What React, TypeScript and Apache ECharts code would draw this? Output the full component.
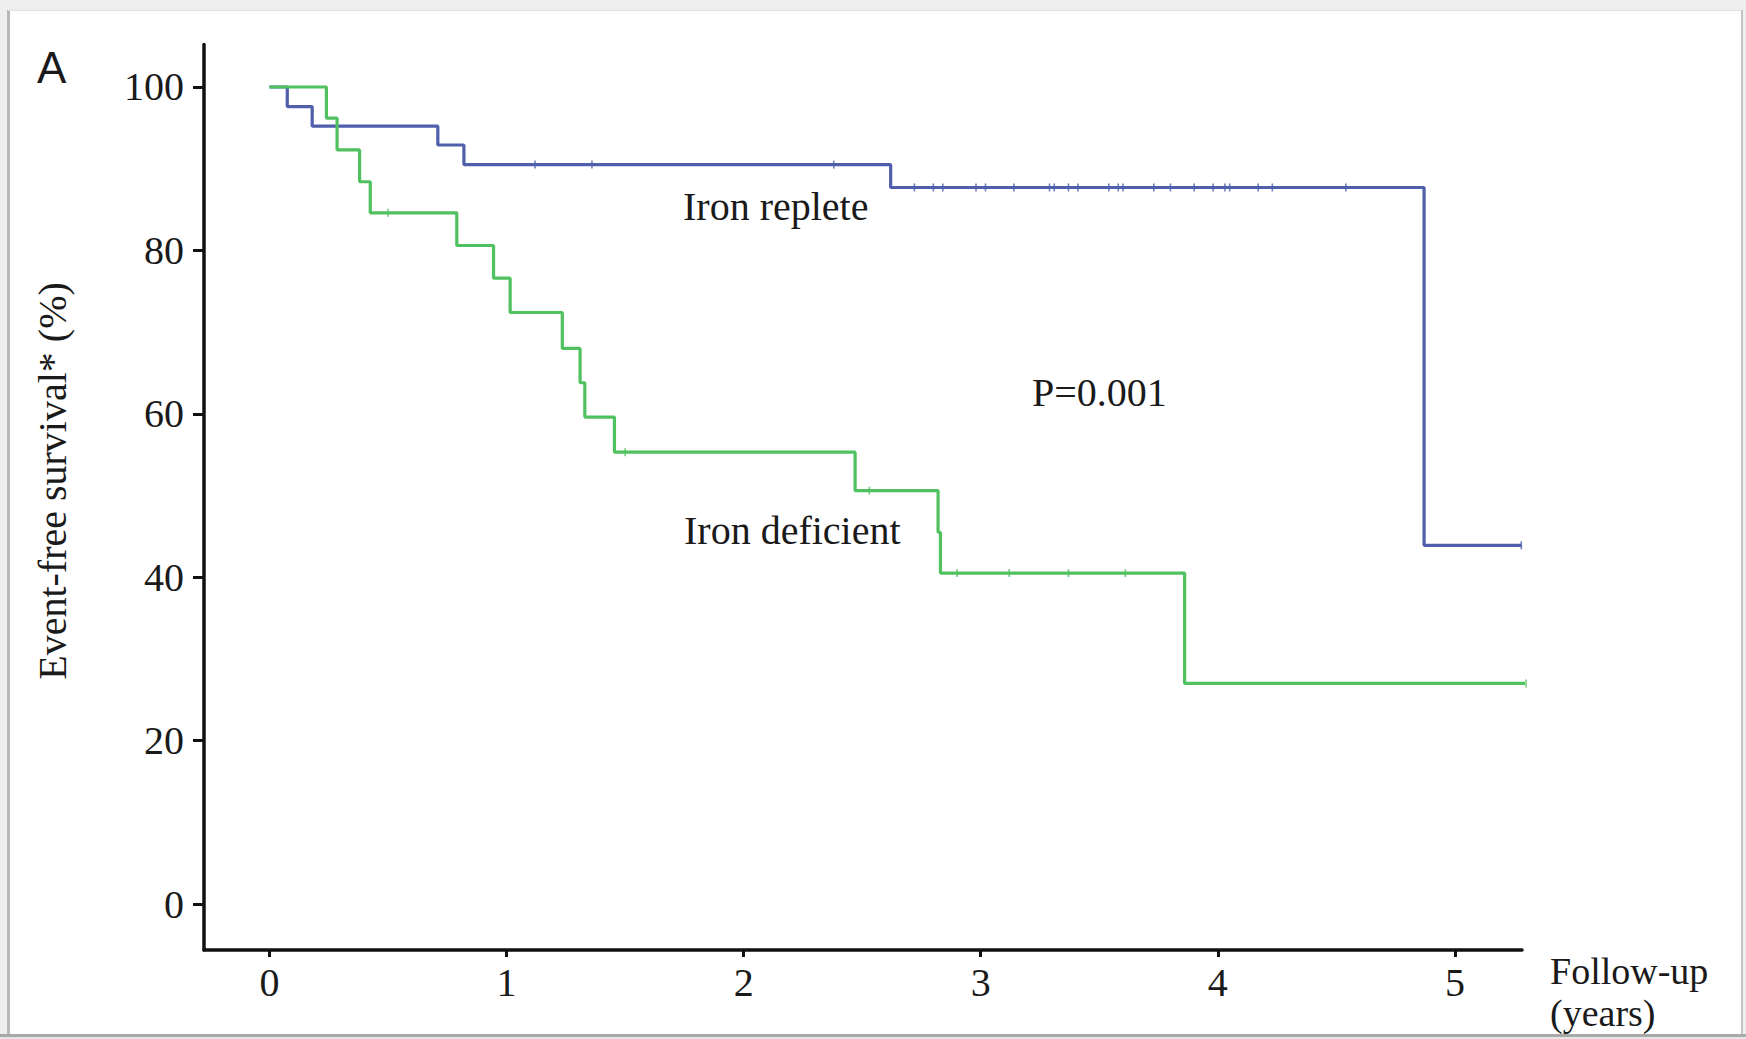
import React, { useEffect, useRef } from "react";
import * as echarts from "echarts";

// Kaplan-Meier curves (time in years, event-free survival in %)
const repleteTimes = [0, 0.075, 0.18, 0.71, 0.82, 2.62, 4.87, 5.28];
const repleteSurv = [100, 97.6, 95.2, 92.9, 90.5, 87.7, 43.9, 43.9];
const repleteCensor = [
  1.12, 1.36, 2.38, 2.72, 2.8, 2.84, 2.98, 3.02, 3.14, 3.29, 3.31, 3.37, 3.41,
  3.54, 3.58, 3.6, 3.73, 3.8, 3.9, 3.98, 4.03, 4.05, 4.17, 4.23, 4.54, 5.28,
];

const deficientTimes = [
  0, 0.24, 0.285, 0.38, 0.425, 0.79, 0.945, 1.015, 1.235, 1.31, 1.33, 1.455,
  2.47, 2.82, 2.83, 3.86, 5.3,
];
const deficientSurv = [
  100, 96.2, 92.3, 88.4, 84.6, 80.6, 76.6, 72.4, 68.0, 63.8, 59.6, 55.3, 50.6,
  45.5, 40.5, 27.0, 27.0,
];
const deficientCensor = [0.5, 1.5, 2.53, 2.9, 3.12, 3.37, 3.61, 5.3];

const xTicks = [0, 1, 2, 3, 4, 5];
const yTicks = [0, 20, 40, 60, 80, 100];

const BLUE = "#4f5fac";
const GREEN = "#50c15f";
const SERIF = "Liberation Serif";

function survAt(times: number[], surv: number[], t: number): number {
  let v = surv[0];
  for (let i = 0; i < times.length; i++) {
    if (times[i] <= t + 1e-9) v = surv[i];
  }
  return v;
}

export default function App() {
  const ref = useRef<HTMLDivElement>(null);
  useEffect(() => {
    if (!ref.current) return;
    const chart = echarts.init(ref.current, undefined, { renderer: "svg" });
    const repleteLine = repleteTimes.map((t, i) => [t, repleteSurv[i]]);
    const deficientLine = deficientTimes.map((t, i) => [t, deficientSurv[i]]);
    const repleteMarks = repleteCensor.map((t) => [t, survAt(repleteTimes, repleteSurv, t)]);
    const deficientMarks = deficientCensor.map((t) => [t, survAt(deficientTimes, deficientSurv, t)]);
    const txt = (text: string, x: number, y: number, extra: any = {}) => ({
      type: "text",
      x,
      y,
      z: 50,
      style: {
        text,
        fill: "#1a1a1a",
        font: `40px "${SERIF}"`,
        textAlign: "left",
        textVerticalAlign: "middle",
        ...extra,
      },
    });
    chart.setOption({
      animation: false,
      backgroundColor: "#ffffff",
      grid: { left: 204, top: 44.5, width: 1318, height: 905.5, containLabel: false },
      xAxis: {
        type: "value",
        min: -0.2763,
        max: 5.283,
        axisLine: { show: true, onZero: false, lineStyle: { color: "#111", width: 3.5 } },
        axisTick: { show: true, customValues: xTicks, length: 7, lineStyle: { color: "#111", width: 3 } },
        axisLabel: {
          show: true,
          customValues: xTicks,
          margin: 12,
          color: "#1a1a1a",
          fontFamily: SERIF,
          fontSize: 40,
        },
        splitLine: { show: false },
      },
      yAxis: {
        type: "value",
        min: -5.63,
        max: 105.2,
        axisLine: { show: true, onZero: false, lineStyle: { color: "#111", width: 3.5 } },
        axisTick: { show: true, customValues: yTicks, length: 11, lineStyle: { color: "#111", width: 3 } },
        axisLabel: {
          show: true,
          customValues: yTicks,
          margin: 20,
          color: "#1a1a1a",
          fontFamily: SERIF,
          fontSize: 40,
        },
        splitLine: { show: false },
      },
      series: [
        {
          name: "Iron replete",
          type: "line",
          step: "end",
          data: repleteLine,
          showSymbol: false,
          clip: false,
          lineStyle: { color: BLUE, width: 3.2 },
          z: 3,
        },
        {
          name: "Iron deficient",
          type: "line",
          step: "end",
          data: deficientLine,
          showSymbol: false,
          clip: false,
          lineStyle: { color: GREEN, width: 3.2 },
          z: 3,
        },
        {
          type: "scatter",
          data: repleteMarks,
          symbol: "rect",
          symbolSize: [1.6, 8],
          itemStyle: { color: BLUE, opacity: 0.8 },
          clip: false,
          z: 4,
        },
        {
          type: "scatter",
          data: deficientMarks,
          symbol: "rect",
          symbolSize: [1.6, 8],
          itemStyle: { color: GREEN, opacity: 0.8 },
          clip: false,
          z: 4,
        },
      ],
      graphic: [
        // outer page background and frame
        { type: "rect", z: -100, shape: { x: 0, y: 0, width: 1746, height: 1039 }, style: { fill: "#eeeeee" } },
        { type: "rect", z: -99, shape: { x: 8, y: 10, width: 1734, height: 1024 }, style: { fill: "#ffffff" } },
        { type: "line", z: -98, shape: { x1: 8.5, y1: 10, x2: 8.5, y2: 1034 }, style: { stroke: "#b8b8b8", lineWidth: 3 } },
        { type: "line", z: -98, shape: { x1: 8, y1: 10.5, x2: 1742, y2: 10.5 }, style: { stroke: "#e2e2e2", lineWidth: 1 } },
        { type: "line", z: -98, shape: { x1: 1742, y1: 10, x2: 1742, y2: 1034 }, style: { stroke: "#c4c4c4", lineWidth: 2 } },
        txt("A", 37, 67, { font: `44px "Liberation Sans"` }),
        {
          type: "text",
          x: 52,
          y: 481,
          rotation: Math.PI / 2,
          z: 50,
          style: {
            text: "Event-free survival* (%)",
            fill: "#1a1a1a",
            font: `40px "${SERIF}"`,
            textAlign: "center",
            textVerticalAlign: "middle",
          },
        },
        txt("Iron replete", 683, 206),
        txt("P=0.001", 1032, 392),
        txt("Iron deficient", 684, 530),
        txt("Follow-up", 1550, 971, { font: `38px "${SERIF}"` }),
        txt("(years)", 1550, 1013, { font: `38px "${SERIF}"` }),
        // bottom border of the frame
        { type: "rect", z: 100, shape: { x: 0, y: 1034, width: 1746, height: 5 }, style: { fill: "#a9a9a9" } },
        { type: "rect", z: 100, shape: { x: 0, y: 1037, width: 1746, height: 2 }, style: { fill: "#e6e6e6" } },
      ],
    });
    return () => chart.dispose();
  }, []);
  return (
    <div
      ref={ref}
      style={{ position: "fixed", left: 0, top: 0, width: 1746, height: 1039 }}
    />
  );
}
